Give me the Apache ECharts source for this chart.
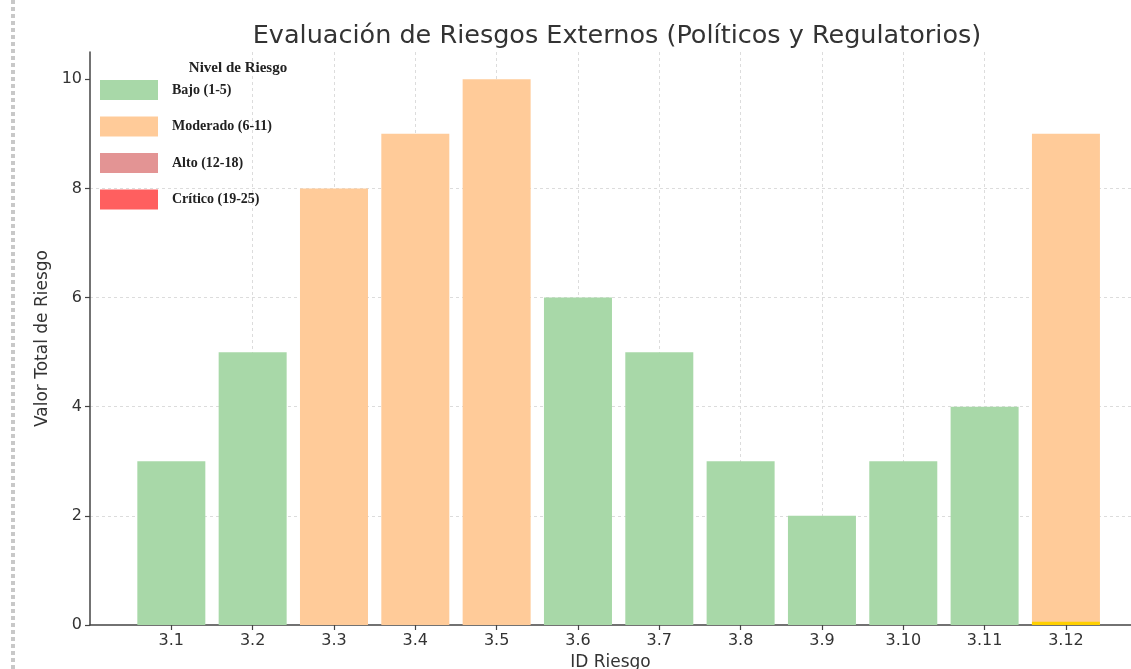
<!DOCTYPE html>
<html>
<head>
<meta charset="utf-8">
<script src="https://cdn.jsdelivr.net/npm/echarts@6/dist/echarts.min.js"></script>
<style>
  html, body { margin: 0; padding: 0; background: #ffffff; }
  #chart { width: 1131px; height: 669px; }
</style>
</head>
<body>
<div id="chart"></div>
<script>
// Risk IDs along the x axis
const categories = ['3.1', '3.2', '3.3', '3.4', '3.5', '3.6', '3.7', '3.8', '3.9', '3.10', '3.11', '3.12'];
// Total risk value per ID
const values = [3, 5, 8, 9, 10, 6, 5, 3, 2, 3, 4, 9];
// Risk level assigned to each ID
const levels = ['Bajo (1-5)', 'Bajo (1-5)', 'Moderado (6-11)', 'Moderado (6-11)', 'Moderado (6-11)',
                'Bajo (1-5)', 'Bajo (1-5)', 'Bajo (1-5)', 'Bajo (1-5)', 'Bajo (1-5)', 'Bajo (1-5)',
                'Moderado (6-11)'];
// Legend entries
const levelNames = ['Bajo (1-5)', 'Moderado (6-11)', 'Alto (12-18)', 'Crítico (19-25)'];
const levelColors = ['#a8d8a8', '#ffcb99', '#e39494', '#ff5f5f'];
// Thin highlight strip at the base of the last bar
const baseStrip = [null, null, null, null, null, null, null, null, null, null, null, 0.06];
// Axis tick values
const yTicks = [0, 2, 4, 6, 8, 10];
const xTicks = categories.map((c, i) => i);

const chart = echarts.init(document.getElementById('chart'));

const levelSeries = levelNames.map((name, k) => ({
  name: name,
  type: 'bar',
  stack: 'total',
  barWidth: 68,
  barGap: '-100%',
  itemStyle: { color: levelColors[k] },
  data: values.map((v, i) => (levels[i] === name ? [i, v] : [i, null]))
}));

const stripSeries = {
  name: 'base',
  type: 'bar',
  barWidth: 68,
  barGap: '-100%',
  z: 5,
  itemStyle: { color: '#ffd000' },
  data: baseStrip.map((v, i) => [i, v])
};

const axisFont = { fontFamily: 'DejaVu Sans', fontSize: 16, color: '#333333' };

chart.setOption({
  animation: false,
  backgroundColor: '#ffffff',
  title: [
    {
      text: 'Evaluación de Riesgos Externos (Políticos y Regulatorios)',
      left: 612, top: 18, textAlign: 'center',
      textStyle: { fontFamily: 'DejaVu Sans', fontSize: 25.5, fontWeight: 'normal', color: '#333333' }
    },
    {
      text: 'Nivel de Riesgo',
      left: 233, top: 56, textAlign: 'center',
      textStyle: { fontFamily: 'Liberation Serif', fontSize: 15, fontWeight: 'bold', color: '#222222' }
    }
  ],
  legend: {
    data: levelNames,
    orient: 'vertical',
    left: 100, top: 80, padding: 0,
    itemWidth: 58, itemHeight: 20, itemGap: 16.5,
    icon: 'rect',
    selectedMode: false,
    textStyle: { fontFamily: 'Liberation Serif', fontSize: 14, fontWeight: 'bold', color: '#222222', padding: [0, 0, 0, 9] }
  },
  grid: { left: 90, right: 0, top: 52, bottom: 44, containLabel: false, outerBoundsMode: 'none' },
  xAxis: {
    type: 'value',
    min: -1, max: 11.8, interval: 1,
    name: 'ID Riesgo', nameLocation: 'middle', nameGap: 29,
    nameTextStyle: { fontFamily: 'DejaVu Sans', fontSize: 17, color: '#333333' },
    axisLine: { show: true, onZero: false, lineStyle: { color: '#444444', width: 1.5 } },
    axisTick: { show: true, customValues: xTicks, inside: false, length: 5, lineStyle: { color: '#444444', width: 1.2 } },
    axisLabel: Object.assign({ customValues: xTicks, margin: 8, formatter: v => categories[Math.round(v)] || '' }, axisFont),
    splitLine: { show: true, showMinLine: false, showMaxLine: false, lineStyle: { color: '#dcdcdc', type: [3, 3], width: 1 } }
  },
  yAxis: {
    type: 'value',
    min: 0, max: 10.5, interval: 2,
    name: 'Valor Total de Riesgo', nameLocation: 'middle', nameGap: 39,
    nameTextStyle: { fontFamily: 'DejaVu Sans', fontSize: 17, color: '#333333' },
    axisLine: { show: true, onZero: false, lineStyle: { color: '#444444', width: 1.5 } },
    axisTick: { show: true, customValues: yTicks, inside: false, length: 5, lineStyle: { color: '#444444', width: 1.2 } },
    axisLabel: Object.assign({ customValues: yTicks, margin: 8 }, axisFont),
    splitLine: { show: true, showMinLine: false, showMaxLine: false, lineStyle: { color: '#dcdcdc', type: [3, 3], width: 1 } }
  },
  graphic: [
    {
      type: 'line',
      shape: { x1: 13, y1: 0, x2: 13, y2: 669 },
      style: { stroke: '#c8c8c8', lineWidth: 4, lineDash: [4, 3] },
      silent: true
    }
  ],
  series: levelSeries.concat([stripSeries])
});
</script>
</body>
</html>
